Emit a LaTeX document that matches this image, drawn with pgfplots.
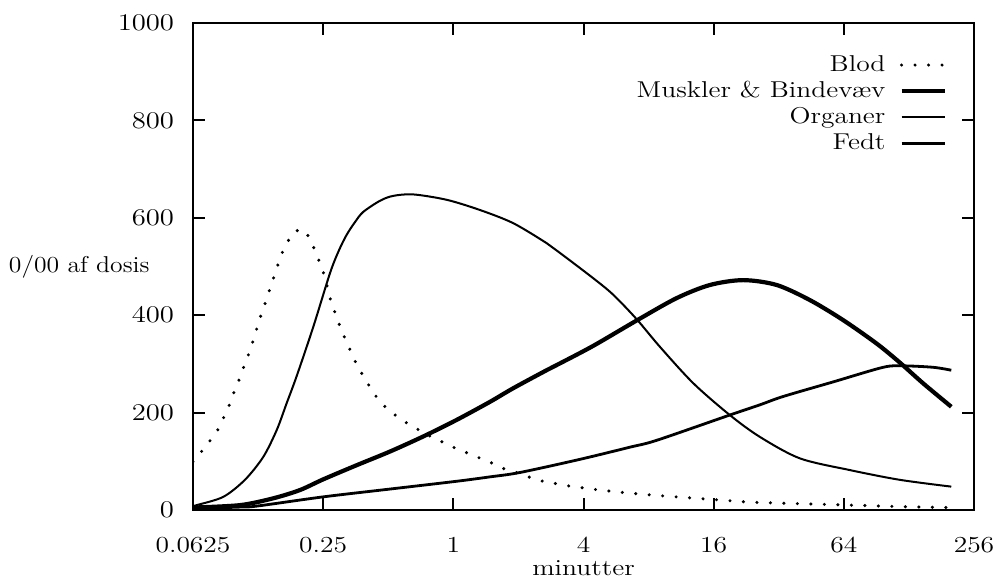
\documentclass[border=0pt]{standalone}
\usepackage{graphicx}
\usepackage{pgfplots}
\pgfplotsset{compat=1.18}

% text in the scan is a bit wider than it is tall
\newcommand{\sx}[1]{\scalebox{1.2}[1]{#1}}
\newcommand{\lstrut}{\rule[-2.5bp]{0pt}{10bp}}

\begin{document}
\fontsize{11.5}{13.8}\selectfont
\begin{tikzpicture}
\useasboundingbox (-96.5bp,-35bp) rectangle (403bp,255bp);
\begin{axis}[
    at={(0,0)}, anchor=south west,
    scale only axis,
    width=390.5bp, height=243.5bp,
    xmode=log, log basis x=2,
    xmin=0.0625, xmax=256,
    ymin=0, ymax=1000,
    xtick={0.0625,0.25,1,4,16,64,256},
    xticklabels={\sx{0.0625},\sx{0.25},\sx{1},\sx{4},\sx{16},\sx{64},\sx{256}},
    ytick={0,200,400,600,800,1000},
    yticklabel={\sx{\pgfmathprintnumber[set thousands separator={}]{\tick}}},
    minor tick num=0, xminorticks=false,
    tick align=inside,
    major tick length=6bp,
    every tick/.style={black, line width=1bp},
    axis line style={line width=1.2bp},
    xticklabel style={anchor=center, yshift=-17.5bp},
    yticklabel style={anchor=east, xshift=-5.5bp},
    xlabel={\sx{minutter}},
    xlabel style={at={(axis description cs:0.5,0)}, anchor=center, yshift=-29bp},
    legend plot pos=right,
    legend cell align=right,
    legend style={draw=none, fill=none, at={(axis description cs:1,1)},
        anchor=north east, xshift=-10.5bp, yshift=-12bp, row sep=-0.7bp, column sep=5bp},
    legend image code/.code={\draw[#1] (0bp,0bp) -- (21.5bp,0bp);},
]

% Blod
\addplot[black, line width=1.7bp, line cap=round, dash pattern=on 0pt off 6.75bp] coordinates {
(0.0625,99)(0.0693,123)(0.0767,148)(0.0818,166)(0.0869,191)(0.0917,214)(0.0964,240)
(0.102,267)(0.1073,294)(0.1131,320)(0.118,345)(0.128,396)(0.1327,415)(0.1384,441)
(0.1434,460)(0.1501,487)(0.160,524)(0.1694,548)(0.1838,571)(0.1953,576)(0.2082,571)
(0.2219,548)(0.2333,524)(0.2469,497)(0.2576,470)(0.265,444)(0.2766,419)(0.2906,392)
(0.3054,366)(0.3244,341)(0.3422,316)(0.3633,292)(0.3914,269)(0.4216,244)(0.4591,222)
(0.5074,203)(0.5704,187)(0.6412,172)(0.726,160)(0.8195,146)(0.934,136)(1.061,123)
(1.2025,115)(1.366,104)(1.557,94)(1.764,82)(2.032,75)(2.326,65)(2.643,58)(3.004,54)
(3.461,49)(4.56,42)(6.07,36)(8.11,31)(11.5,26)(16.5,21)(23.5,16)(33.5,14)(68.2,10)
(116,7)(201,5)
};
\addlegendentry{\sx{Blod\lstrut}}

% Muskler & Bindevaev
\addplot[black, line width=2.1bp, smooth] coordinates {
(0.0625,5)(0.1031,10)(0.1469,24)(0.1953,41)(0.2504,63)(0.3573,92)(0.509,120)
(0.726,151)(1.036,185)(1.476,222)(1.892,250)(2.70,287)(3.111,301)(4.435,337)
(7.04,389)(10.78,435)(15.37,462)(21.9,472)(31.3,462)(44.6,431)(63.5,390)(90.6,342)
(116,303)(149,260)(201,212)
};
\addlegendentry{\sx{Muskler \& Bindevæv\lstrut}}

% Organer
\addplot[black, line width=1bp, smooth] coordinates {
(0.0625,8)(0.065,10)(0.0863,27)(0.1087,62)(0.1321,109)(0.1524,164)(0.1694,219)
(0.1886,275)(0.225,376)(0.2687,486)(0.295,532)(0.321,565)(0.352,592)(0.383,612)
(0.458,635)(0.527,645)(0.653,648)(0.931,637)(1.328,616)(1.892,589)(2.70,548)
(3.111,528)(4.435,476)(5.49,442)(7.04,392)(9.03,335)(12.9,260)(19.0,195)(26.2,150)
(40.1,106)(68.2,82)(116,62)(201,48)
};
\addlegendentry{\sx{Organer\lstrut}}

% Fedt
\addplot[black, line width=1.4bp, smooth] coordinates {
(0.0625,3)(0.1031,6)(0.1231,8)(0.2504,27)(0.509,43)(1.036,59)(1.476,68)(2.032,77)
(3.85,104)(6.56,129)(8.71,143)(19.0,195)(26.2,216)(33.5,233)(57.1,263)(97.3,293)
(120,296)(166,293)(201,287)
};
\addlegendentry{\sx{Fedt\lstrut}}
\end{axis}
\node[anchor=east, xshift=-17.7bp] at (current axis.west) {\scalebox{1.12}[1]{0/00 af dosis}};
\end{tikzpicture}
\end{document}
